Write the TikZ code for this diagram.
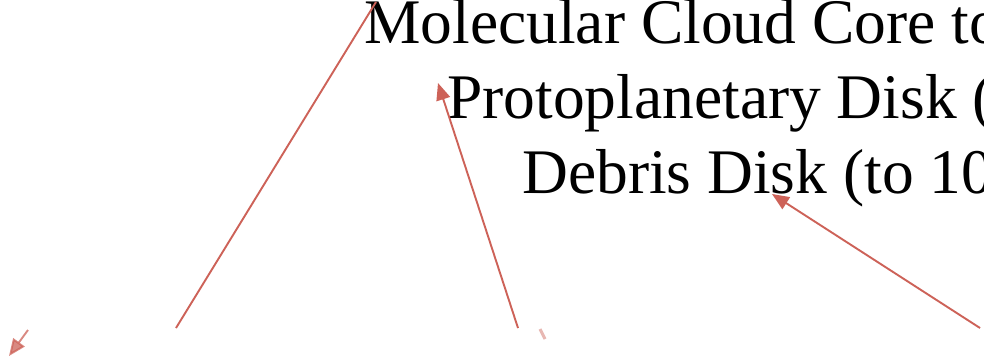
\documentclass[tikz,border=0pt]{standalone}
\usepackage{fontspec}
\setmainfont{Liberation Serif}
\usetikzlibrary{arrows.meta}
\definecolor{arr}{RGB}{205,98,88}
\tikzset{
  lbl/.style={anchor=base west, inner sep=0pt, font=\fontsize{63.5}{76}\selectfont, text=black},
  conn/.style={draw=arr, line width=1.9pt},
  conntip/.style={conn, -{Triangle[length=17pt,width=14pt]}}
}
\begin{document}
\begin{tikzpicture}[x=1pt,y=-1pt]
\useasboundingbox (0,0) rectangle (984,359);
\clip (0,0) rectangle (984,359);
\fill[white] (0,0) rectangle (984,359);
\node[lbl] (l1) at (364,43) {Molecular Cloud Core to};
\node[lbl] (l2) at (447,118) {Protoplanetary Disk (};
\node[lbl] (l3) at (522,193) {Debris Disk (to 10};
\coordinate (s1) at (176,328);
\coordinate (e1) at (376,2);
\coordinate (s2) at (518,328);
\coordinate (e2) at (438,83);
\coordinate (s3) at (980,328);
\coordinate (e3) at (772,194);
\coordinate (s4) at (28,330);
\coordinate (e4) at (9,356);
\coordinate (s5) at (540,329);
\coordinate (e5) at (545,339);
\draw[conn] (s1) -- (e1);
\draw[conntip] (s2) -- (e2);
\draw[conntip] (s3) -- (e3);
\draw[conntip, opacity=0.75] (s4) -- (e4);
\draw[conn, opacity=0.45, line width=3pt] (s5) -- (e5);
\end{tikzpicture}
\end{document}
